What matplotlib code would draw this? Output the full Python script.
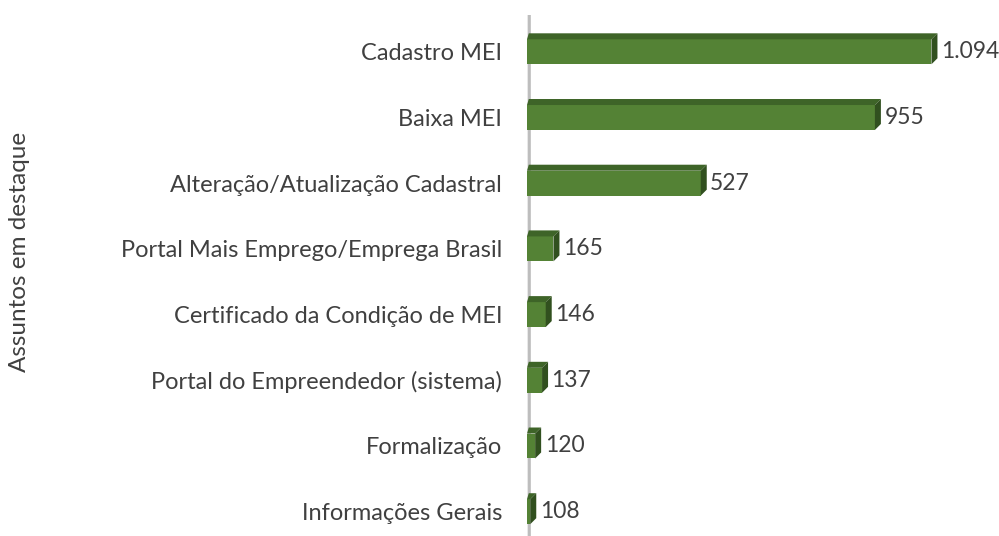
import matplotlib
matplotlib.use("Agg")
import matplotlib.pyplot as plt
from matplotlib.patches import Polygon
import numpy as np

categories = ["Cadastro MEI", "Baixa MEI", "Alteração/Atualização Cadastral",
              "Portal Mais Emprego/Emprega Brasil", "Certificado da Condição de MEI",
              "Portal do Empreendedor (sistema)", "Formalização", "Informações Gerais"]
values = [1094, 955, 527, 165, 146, 137, 120, 108]
value_labels = ["1.094", "955", "527", "165", "146", "137", "120", "108"]
axis_label = "Assuntos em destaque"

plt.rcParams['font.family'] = ['Lato', 'DejaVu Sans']

W, H = 999, 536
fig = plt.figure(figsize=(W / 100, H / 100), dpi=100)
ax = fig.add_axes([527 / W, 0, 1 - 527 / W, 1 - 15 / H])

xmin, xmax = 100, 1260
ax.set_xlim(xmin, xmax)
ax.set_ylim(len(values) - 1 + 0.37, -0.56)

front = '#548235'
top = '#3e6428'
side = '#31501f'
h = 0.38
dx = (xmax - xmin) * 6 / (W - 527)
dy = 6 / 65.7

y = np.arange(len(values))
ax.barh(y, [v - xmin for v in values], left=xmin, height=h, color=front,
        edgecolor='none', zorder=3)
for yi, v in zip(y, values):
    t = Polygon([(xmin, yi - h / 2), (v, yi - h / 2), (v + dx, yi - h / 2 - dy),
                 (xmin + dx * 0.3, yi - h / 2 - dy)], closed=True,
                facecolor=top, edgecolor='none', zorder=3)
    s = Polygon([(v, yi - h / 2), (v + dx, yi - h / 2 - dy), (v + dx, yi + h / 2 - dy),
                 (v, yi + h / 2)], closed=True, facecolor=side, edgecolor='none', zorder=3)
    ax.add_patch(t)
    ax.add_patch(s)

for yi, v, lab in zip(y, values, value_labels):
    ax.annotate(lab, xy=(v + dx, yi), xytext=(2.5, 0), textcoords='offset points',
                va='center', ha='left', fontsize=16.5, color='#404040',
                annotation_clip=False)

# wall / axis line
ax.axvline(xmin, color='#bdbdbd', lw=5.5, zorder=2)
ax.axvline(xmin, color='#e8e8e8', lw=1.5, zorder=2)

ax.set_yticks(y)
ax.set_yticklabels(categories, fontsize=17, color='#404040')
ax.tick_params(axis='y', length=0, pad=18)
ax.set_xticks([])
for sp in ax.spines.values():
    sp.set_visible(False)

fig.text(20 / W, 1 - 252 / H, axis_label, rotation=90, va='center', ha='center',
         fontsize=17.5, color='#404040')

fig.savefig("out.png", dpi=100, facecolor='white')
